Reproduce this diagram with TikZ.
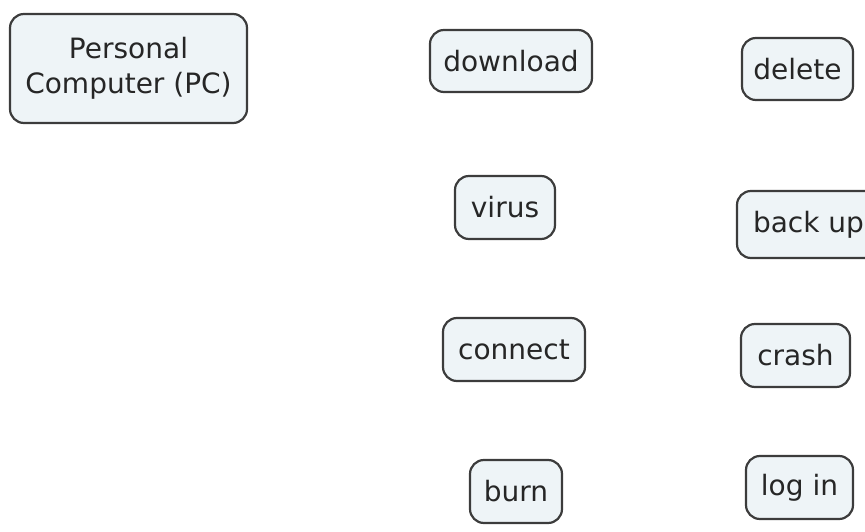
\documentclass[tikz,border=0pt]{standalone}
\usepackage{fontspec}
\setmainfont{DejaVu Sans}
\definecolor{boxfill}{RGB}{238,244,247}
\definecolor{boxline}{RGB}{60,60,60}

\begin{document}
\begin{tikzpicture}[x=1pt, y=-1pt,
    word/.style={draw=boxline, fill=boxfill, line width=2.2pt, rounded corners=14pt,
        inner sep=0pt, minimum height=62pt, align=center, text=black!85,
        font=\fontsize{28}{35}\selectfont}]
    \useasboundingbox (0,0) rectangle (865,532);
    \clip (0,0) rectangle (865,532);
    \node [word, minimum width=237pt, minimum height=109pt] (pc) at (128.5,68.5) {Personal\\Computer (PC)};
    \node [word, minimum width=162pt] (download) at (511,61) {download};
    \node [word, minimum width=111pt] (delete) at (797.5,69) {delete};
    \node [word, minimum width=100pt, minimum height=63pt] (virus) at (505,207.5) {virus};
    \node [word, minimum width=143pt, minimum height=67pt] (backup) at (808.5,224.5) {back up};
    \node [word, minimum width=142pt, minimum height=63pt] (connect) at (514,349.5) {connect};
    \node [word, minimum width=109pt, minimum height=63pt] (crash) at (795.5,355.5) {crash};
    \node [word, minimum width=92pt, minimum height=63pt] (burn) at (516,491.5) {burn};
    \node [word, minimum width=107pt, minimum height=63pt] (login) at (799.5,487.5) {log in};
\end{tikzpicture}
\end{document}
